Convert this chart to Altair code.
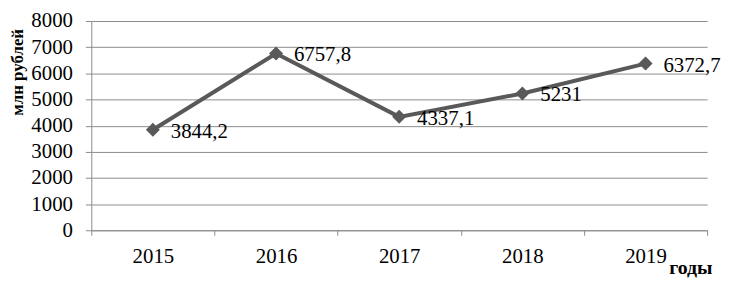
import altair as alt
import pandas as pd

years = ["2015", "2016", "2017", "2018", "2019"]
values = [3844.2, 6757.8, 4337.1, 5231, 6372.7]
labels = ["3844,2", "6757,8", "4337,1", "5231", "6372,7"]
y_ticks = [0, 1000, 2000, 3000, 4000, 5000, 6000, 7000, 8000]

df = pd.DataFrame({"year": years, "value": values, "label": labels})

FONT = "Liberation Serif"
GRAY = "#8c8c8c"
LINE = "#595959"

x = alt.X(
    "year:O",
    bandPosition=0.5,
    scale=alt.Scale(type="band", paddingInner=0, paddingOuter=0),
    axis=alt.Axis(
        title="годы", titleFont=FONT, titleFontWeight="bold", titleFontSize=20,
        titleColor="black", titleAlign="right", titleBaseline="alphabetic",
        titleX=626, titleY=44,
        labelAngle=0, labelFont=FONT, labelFontSize=21, labelColor="black",
        labelPadding=10, tickBand="extent", tickSize=5, tickColor=GRAY,
        domainColor=GRAY, grid=False,
    ),
)
y = alt.Y(
    "value:Q",
    scale=alt.Scale(domain=[0, 8000]),
    axis=alt.Axis(
        values=y_ticks, format="d", title="млн рублей", titleFont=FONT,
        titleFontWeight="bold", titleFontSize=17, titleColor="black",
        titleAngle=-90, titleAlign="left", titleBaseline="alphabetic",
        titleX=-69, titleY=95,
        labelFont=FONT, labelFontSize=21, labelColor="black", labelPadding=13,
        tickSize=6, tickColor=GRAY, domainColor=GRAY,
        grid=True, gridColor=GRAY, gridWidth=1,
    ),
)

base = alt.Chart(df).encode(x=x, y=y)
line = base.mark_line(color=LINE, strokeWidth=4)
pts = base.mark_point(shape="diamond", filled=True, size=200, color=LINE, opacity=1)
txt = base.mark_text(align="left", baseline="middle", dx=18, dy=2, font=FONT,
                     fontSize=21, color="black").encode(text="label:N")

chart = (line + pts + txt).properties(
    width=621, height=211,
    autosize=alt.AutoSizeParams(type="none"),
    padding={"left": 84, "top": 12, "right": 14, "bottom": 49},
).configure_view(stroke=None)

chart.save("out.html", embed_options={"renderer": "svg", "actions": False})
